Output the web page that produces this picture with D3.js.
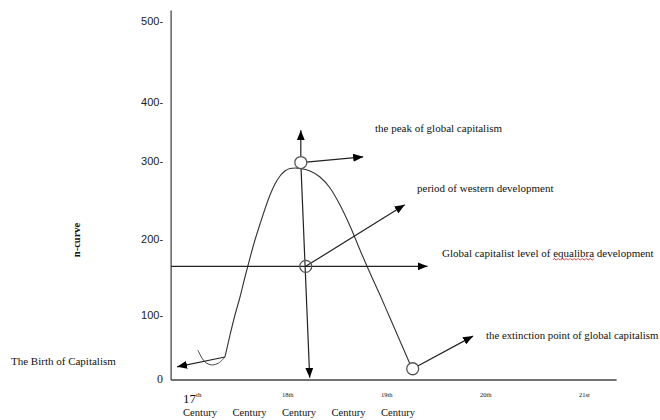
<!DOCTYPE html>
<html><head><meta charset="utf-8">
<script src="https://cdn.jsdelivr.net/npm/d3@7"></script>
<style>body{margin:0;background:#fff} svg{display:block}</style>
</head><body><svg id="c" width="660" height="420"></svg>
<script>
// ---- data ----
const yTicks = [0, 100, 200, 300, 400, 500];
const centuryMarks = ["17th", "18th", "19th", "20th", "21st"];
const centuryValues = [17, 18, 19, 20, 21];
const centuryWordValues = [17, 17.5, 18, 18.5, 19];
const centuryWord = "Century";
const curveX = [17.424, 17.475, 17.525, 17.576, 17.626, 17.677, 17.727, 17.778, 17.828, 17.879, 17.929, 17.980, 18.030, 18.081, 18.131, 18.182, 18.283, 18.384, 18.485, 18.586, 18.687, 18.788, 18.889, 18.990, 19.091, 19.192, 19.293];
const curveY = [34.4, 68.8, 100, 123.7, 150, 175.3, 198.7, 219.2, 238.5, 256.4, 270.5, 280.8, 287.2, 290.4, 291, 290.4, 287.2, 279.5, 265.4, 243.6, 216.7, 185.5, 155.3, 126.3, 95.3, 59.4, 23.4];
const cupX = [17.15, 17.22, 17.29, 17.36, 17.424];
const cupY = [45, 27, 22, 25, 34.4];
const axisExtentX = [16.88, 21.38];
const axisExtentY = [0, 513];
const peakPoint = [18.19, 298];
const equilibriumPoint = [18.24, 164];
const extinctionPoint = [19.32, 16];
// arrows: [fromX, fromY, toX, toY]
const arrows = [
  [18.19, 298, 18.19, 352],
  [18.19, 298, 18.82, 307],
  [18.19, 298, 18.28, 2],
  [18.24, 164, 19.24, 244],
  [19.32, 16, 19.93, 67],
  [17.424, 34.4, 16.94, 19],
  [16.88, 164, 19.47, 164]
];
const annotations = [
  "the peak of global capitalism",
  "period of western development",
  "Global capitalist level of equalibra development",
  "the extinction point of global capitalism",
  "The Birth of Capitalism"
];
const yTitle = "n-curve";

// ---- scales ----
const svg = d3.select("#c");
const x = d3.scaleLinear().domain([17, 21]).range([183, 579]);
const y = d3.scaleLinear().domain(yTicks).range([379, 315, 239, 161, 102, 21]);

const serif = "'Liberation Serif','Times New Roman',serif";
const ink = "#111";

svg.append("defs").append("marker")
  .attr("id", "ah").attr("viewBox", "0 0 10 8")
  .attr("refX", 10).attr("refY", 4)
  .attr("markerWidth", 10).attr("markerHeight", 8)
  .attr("markerUnits", "userSpaceOnUse").attr("orient", "auto")
  .append("path").attr("d", "M0,0L10,4L0,8Z").attr("fill", "#000");

// axes lines
svg.append("line")
  .attr("x1", x(axisExtentX[0])).attr("x2", x(axisExtentX[0]))
  .attr("y1", y(axisExtentY[0]) + 1).attr("y2", y(axisExtentY[1]))
  .attr("stroke", "#555").attr("stroke-width", 1.4);
svg.append("line")
  .attr("x1", x(axisExtentX[0])).attr("x2", x(axisExtentX[1]))
  .attr("y1", y(axisExtentY[0]) + 1).attr("y2", y(axisExtentY[0]) + 1)
  .attr("stroke", "#444").attr("stroke-width", 1.4);

// y axis labels via d3 axis
const yAxis = d3.axisLeft(y).tickValues(yTicks).tickSize(0).tickPadding(8)
  .tickFormat(d => d === 0 ? "0" : d + "-");
const gy = svg.append("g").attr("transform", `translate(${x(axisExtentX[0])},0)`).call(yAxis);
gy.select(".domain").remove();
gy.selectAll("text").attr("font-family", "'Liberation Sans Narrow','Liberation Sans',Arial,sans-serif")
  .attr("font-size", 11).attr("fill", "#222");
gy.selectAll(".tick text").filter(d => d === 0).attr("font-family", serif).attr("font-size", 12);

// x labels
centuryMarks.forEach((m, i) => {
  const t = svg.append("text").attr("x", x(centuryValues[i])).attr("font-family", serif).attr("fill", ink);
  if (i === 0) {
    t.attr("y", 403);
    t.append("tspan").attr("font-size", 13).text(m.slice(0, 2));
    t.append("tspan").attr("font-size", 7).attr("dy", -6).text(m.slice(2));
  } else {
    t.attr("y", 397).attr("font-size", 6.5).text(m);
  }
});
svg.selectAll(".cw").data(centuryWordValues).join("text").attr("class", "cw")
  .attr("x", d => x(d)).attr("y", 416)
  .attr("font-family", serif).attr("font-size", 10.6).attr("fill", ink).text(centuryWord);

// y title
svg.append("text").attr("transform", "translate(80,240) rotate(-90)")
  .attr("text-anchor", "middle").attr("font-family", serif).attr("font-weight", "bold")
  .attr("font-size", 10.5).attr("fill", ink).text(yTitle);

// curve
const pts = curveX.map((v, i) => [v, curveY[i]]);
const line = d3.line().x(d => x(d[0])).y(d => y(d[1])).curve(d3.curveMonotoneX);
svg.append("path").attr("d", line(pts)).attr("fill", "none").attr("stroke", "#333").attr("stroke-width", 1.1);
const cup = cupX.map((v, i) => [v, cupY[i]]);
const cupLine = d3.line().x(d => x(d[0])).y(d => y(d[1])).curve(d3.curveCatmullRom);
svg.append("path").attr("d", cupLine(cup)).attr("fill", "none").attr("stroke", "#444").attr("stroke-width", 1);

// arrows
svg.selectAll(".arr").data(arrows).join("line").attr("class", "arr")
  .attr("x1", d => x(d[0])).attr("y1", d => y(d[1]))
  .attr("x2", d => x(d[2])).attr("y2", d => y(d[3]))
  .attr("stroke", "#222").attr("stroke-width", 1.2)
  .attr("marker-end", "url(#ah)");

// circles (peak & extinction filled white, equilibrium transparent)
[[peakPoint, "#fff"], [equilibriumPoint, "none"], [extinctionPoint, "#fff"]].forEach(([p, f]) => {
  svg.append("circle").attr("cx", x(p[0])).attr("cy", y(p[1])).attr("r", 6)
    .attr("fill", f).attr("stroke", "#555").attr("stroke-width", 1.3);
});

// annotations
const annPos = [[375, 132], [417, 192], [442, 257], [486, 339], [11, 365]];
const annSize = [11, 11, 11, 10.8, 11];
annotations.forEach((a, i) => {
  const t = svg.append("text").attr("x", annPos[i][0]).attr("y", annPos[i][1])
    .attr("font-family", serif).attr("font-size", annSize[i]).attr("fill", ink).text(a);
  if (a.includes("equalibra")) {
    const node = t.node();
    const idx = a.indexOf("equalibra");
    const x0 = annPos[i][0] + node.getSubStringLength(0, idx);
    const w = node.getSubStringLength(idx, 9);
    let d = `M${x0},${annPos[i][1] + 3}`;
    for (let k = 0; k * 2 < w; k++) {
      d += `L${x0 + k * 2 + 1},${annPos[i][1] + (k % 2 ? 3 : 1.5)}`;
    }
    svg.append("path").attr("d", d).attr("fill", "none").attr("stroke", "#e02020").attr("stroke-width", 0.8);
  }
});
</script></body></html>
